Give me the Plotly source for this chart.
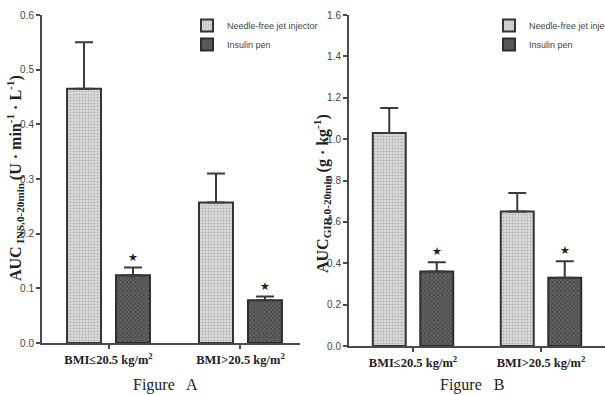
import plotly.graph_objects as go

# Group labels and series
groups = ["BMI≤20.5 kg/m<sup>2</sup>", "BMI>20.5 kg/m<sup>2</sup>"]
series = ["Needle-free jet injector", "Insulin pen"]

# Figure A: AUC of insulin, 0-20 min (mean and upper error)
ins_jet = [0.465, 0.257]
ins_jet_err = [0.085, 0.053]
ins_pen = [0.124, 0.078]
ins_pen_err = [0.014, 0.007]

# Figure B: AUC of glucose infusion rate, 0-20 min
gir_jet = [1.03, 0.65]
gir_jet_err = [0.12, 0.09]
gir_pen = [0.36, 0.33]
gir_pen_err = [0.045, 0.08]

W, H = 605, 395
BARGAP = 0.258
BARGROUPGAP = 0.306
SLOT = (1 - BARGAP) / 2          # width of one bar slot in category units
PEN_OFFSET = SLOT / 2            # centre of the pen bar relative to its category

ERR_COLOR = "#3a3a3a"
LINE_COLOR = "#4a4a4a"

jet_marker = dict(
    color="#d4d4d4",
    line=dict(color="#333333", width=2),
    pattern=dict(shape=".", bgcolor="#dcdcdc", fgcolor="#858585", size=3, solidity=0.35),
)
pen_marker = dict(
    color="#555555",
    line=dict(color="#2e2e2e", width=2),
    pattern=dict(shape="x", bgcolor="#626262", fgcolor="#2a2a2a", size=3, solidity=0.45),
)


def err(vals):
    return dict(type="data", array=vals, arrayminus=[0] * len(vals), symmetric=False,
                color=ERR_COLOR, thickness=2, width=9)


fig = go.Figure()

fig.add_trace(go.Bar(x=groups, y=ins_jet, error_y=err(ins_jet_err), marker=jet_marker,
                     name=series[0], xaxis="x", yaxis="y", legend="legend"))
fig.add_trace(go.Bar(x=groups, y=ins_pen, error_y=err(ins_pen_err), marker=pen_marker,
                     name=series[1], xaxis="x", yaxis="y", legend="legend"))
fig.add_trace(go.Bar(x=groups, y=gir_jet, error_y=err(gir_jet_err), marker=jet_marker,
                     name=series[0], xaxis="x2", yaxis="y2", legend="legend2"))
fig.add_trace(go.Bar(x=groups, y=gir_pen, error_y=err(gir_pen_err), marker=pen_marker,
                     name=series[1], xaxis="x2", yaxis="y2", legend="legend2"))

SANS = "Liberation Sans Narrow, Liberation Sans, Arial"
SERIF = "Liberation Serif, Times New Roman, serif"
tick_font = dict(family=SANS, size=10, color="#444444")
cat_font = dict(family=SERIF, size=12.5, color="#222222", weight="bold")

axis_common = dict(showline=True, linecolor=LINE_COLOR, linewidth=2, showgrid=False,
                   zeroline=False, ticks="outside", ticklen=4, tickwidth=1.5,
                   tickcolor=LINE_COLOR)

legend_font = dict(family=SANS, size=9, color="#444444")

fig.update_layout(
    width=W, height=H,
    margin=dict(l=0, r=0, t=0, b=0, autoexpand=False),
    paper_bgcolor="white", plot_bgcolor="white",
    barmode="group", bargap=BARGAP, bargroupgap=BARGROUPGAP,
    xaxis=dict(domain=[42 / W, 300 / W], range=[-0.504, 1.451], type="category",
               tickfont=cat_font, anchor="y", **axis_common),
    yaxis=dict(domain=[(H - 343) / H, (H - 15) / H], range=[0, 0.6], dtick=0.1,
               tickformat=".1f", tickfont=tick_font, anchor="x", **axis_common),
    xaxis2=dict(domain=[349 / W, 1.0], range=[-0.5, 1.5], type="category",
                tickfont=cat_font, anchor="y2", **axis_common),
    yaxis2=dict(domain=[(H - 346) / H, (H - 15) / H], range=[0, 1.6], dtick=0.2,
                tickformat=".1f", tickfont=tick_font, anchor="x2", **axis_common),
    legend=dict(x=187 / W, y=(H - 11) / H, xanchor="left", yanchor="top",
                bgcolor="rgba(0,0,0,0)", font=legend_font),
    legend2=dict(x=489 / W, y=(H - 11) / H, xanchor="left", yanchor="top",
                 bgcolor="rgba(0,0,0,0)", font=legend_font),
    showlegend=True,
)

# Significance stars above the insulin pen bars
star_font = dict(family="DejaVu Sans", size=11, color="#222222")
for xa, ya, vals, errs in (("x", "y", ins_pen, ins_pen_err), ("x2", "y2", gir_pen, gir_pen_err)):
    for i, (v, e) in enumerate(zip(vals, errs)):
        fig.add_annotation(x=i + PEN_OFFSET, y=v + e, xref=xa, yref=ya, text="★",
                           showarrow=False, xanchor="center", yanchor="bottom", yshift=2,
                           font=star_font)

title_font = dict(family=SERIF, size=16, color="#222222", weight="bold")
fig.add_annotation(x=15 / W, y=(H - 178) / H, xref="paper", yref="paper", textangle=-90,
                   xanchor="center", yanchor="middle",
                   text="AUC<sub> INS,0-20min </sub>(U · min<sup>-1</sup> · L<sup>-1</sup>)",
                   showarrow=False, font=title_font)
fig.add_annotation(x=322 / W, y=(H - 194) / H, xref="paper", yref="paper", textangle=-90,
                   xanchor="center", yanchor="middle",
                   text="AUC<sub>GIR,0-20min </sub>(g · kg<sup>-1</sup>)",
                   showarrow=False, font=title_font)

cap_font = dict(family=SERIF, size=16, color="#222222")
fig.add_annotation(x=165 / W, y=(H - 385) / H, xref="paper", yref="paper",
                   xanchor="center", yanchor="middle",
                   text="Figure   A", showarrow=False, font=cap_font)
fig.add_annotation(x=472 / W, y=(H - 385) / H, xref="paper", yref="paper",
                   xanchor="center", yanchor="middle",
                   text="Figure   B", showarrow=False, font=cap_font)

fig.write_html("out.html")
